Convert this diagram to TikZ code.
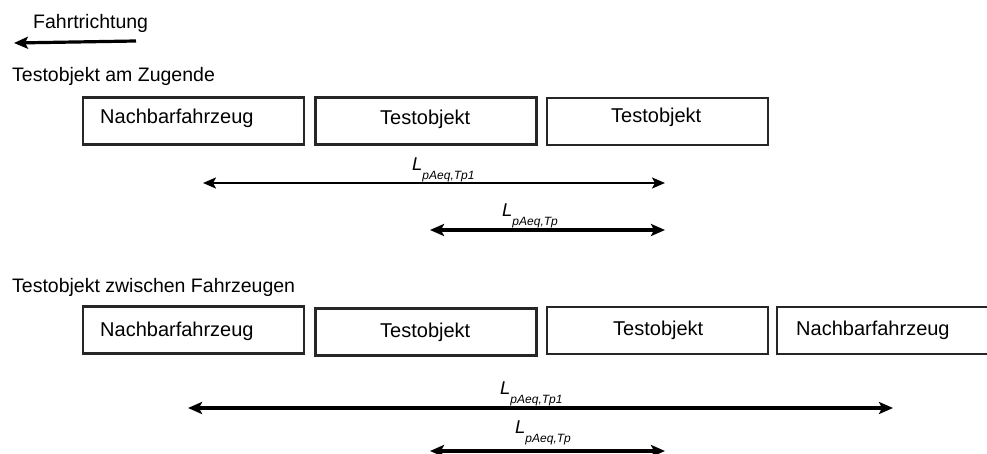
\documentclass[tikz,border=0pt]{standalone}
\usepackage{fontspec}
\setmainfont{Liberation Sans}
\usetikzlibrary{arrows.meta}
\tikzset{
  box/.style={draw=black!85, line width=2.3pt, minimum width=221pt, minimum height=47pt, inner sep=0pt},
  boxtext/.style={anchor=base west, inner sep=0pt, font=\fontsize{20}{20}\selectfont},
  plain/.style={anchor=base west, inner sep=0pt, font=\fontsize{19.5}{20}\selectfont},
  lbl/.style={anchor=base west, inner sep=0pt},
  thinarr/.style={line width=2.1pt, {Stealth[length=13pt,width=11pt,inset=3pt]}-{Stealth[length=13pt,width=11pt,inset=3pt]}},
  thickarr/.style={line width=3.4pt, {Stealth[length=14pt,width=12pt,inset=3pt]}-{Stealth[length=14pt,width=12pt,inset=3pt]}},
  dirarr/.style={line width=3.2pt, -{Stealth[length=14pt,width=12pt,inset=3pt]}}
}
\newcommand{\Lsym}[1]{{\fontsize{18.5}{18}\selectfont\itshape L}\raisebox{-9pt}{\fontsize{12}{12}\selectfont\itshape #1}}
\begin{document}
\begin{tikzpicture}[x=1pt,y=-1pt]
\useasboundingbox (0,0) rectangle (987,454);
% direction
\node[plain] (fr) at (33,29) {Fahrtrichtung};
\coordinate (fa) at (136,41);
\coordinate (fb) at (14,43);
\draw[dirarr] (fa) -- (fb);
% section 1
\node[plain] (s1) at (12,82) {Testobjekt am Zugende};
\node[box] (a1) at (193.5,121) {};
\node[box] (a2) at (426,121) {};
\node[box] (a3) at (657.5,121.5) {};
\node[boxtext] (ta1) at (100,124) {Nachbarfahrzeug};
\node[boxtext] (ta2) at (380,125) {Testobjekt};
\node[boxtext] (ta3) at (611,123) {Testobjekt};
\coordinate (p1l) at (203,183);
\coordinate (p1r) at (665,183);
\draw[thinarr] (p1l) -- (p1r);
\node[lbl] (l1) at (412,171) {\Lsym{pAeq,Tp1}};
\coordinate (p2l) at (430,230);
\coordinate (p2r) at (665,230);
\draw[thickarr] (p2l) -- (p2r);
\node[lbl] (l2) at (502,217) {\Lsym{pAeq,Tp}};
% section 2
\node[plain] (s2) at (12,292) {Testobjekt zwischen Fahrzeugen};
\node[box] (b1) at (193.5,330) {};
\node[box] (b2) at (426,332) {};
\node[box] (b3) at (657.5,330.5) {};
\node[box, minimum width=215pt] (b4) at (884.5,330.5) {};
\node[boxtext] (tb1) at (100,336) {Nachbarfahrzeug};
\node[boxtext] (tb2) at (380,337) {Testobjekt};
\node[boxtext] (tb3) at (613,335) {Testobjekt};
\node[boxtext] (tb4) at (796,335) {Nachbarfahrzeug};
\coordinate (q1l) at (188,408);
\coordinate (q1r) at (893,408);
\draw[thickarr] (q1l) -- (q1r);
\node[lbl] (m1) at (500,394) {\Lsym{pAeq,Tp1}};
\coordinate (q2l) at (430,451);
\coordinate (q2r) at (665,451);
\draw[thickarr] (q2l) -- (q2r);
\node[lbl] (m2) at (515,433) {\Lsym{pAeq,Tp}};
\end{tikzpicture}
\end{document}
